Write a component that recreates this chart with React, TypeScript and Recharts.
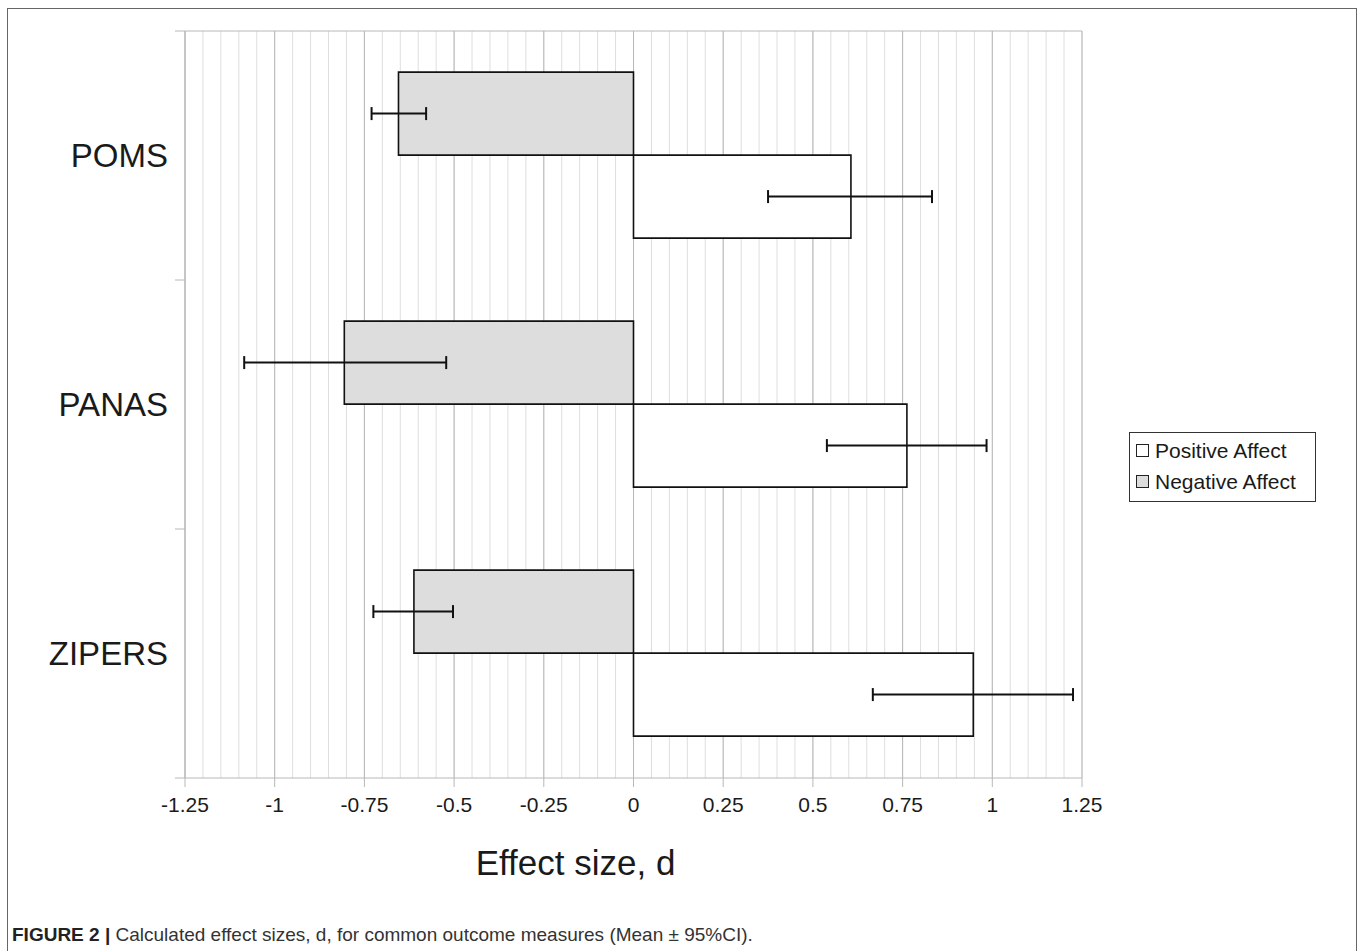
import {
  BarChart,
  Bar,
  XAxis,
  YAxis,
  CartesianGrid,
  ErrorBar,
  Legend,
} from "recharts"

// effect sizes (Cohen's d)
const measures = ["POMS", "PANAS", "ZIPERS"]
const negativeAffect = [-0.655, -0.806, -0.612]
const negativeLow = [-0.73, -1.085, -0.725]
const negativeHigh = [-0.578, -0.522, -0.503]
const positiveAffect = [0.606, 0.762, 0.947]
const positiveLow = [0.375, 0.539, 0.667]
const positiveHigh = [0.832, 0.984, 1.225]

const xTicks = [-1.25, -1, -0.75, -0.5, -0.25, 0, 0.25, 0.5, 0.75, 1, 1.25]
// light grid every 0.05
const minorTicks = Array.from({ length: 51 }, (_, i) => -1.25 + i * 0.05)
// tick marks between the category bands
const boundTicks = [0, 1, 2, 3]

const legendItems = [
  { label: "Positive Affect", fill: "#ffffff" },
  { label: "Negative Affect", fill: "#dddddd" },
]

const data = measures.map((name, i) => ({
  name,
  neg: negativeAffect[i],
  negErr: [negativeAffect[i] - negativeLow[i], negativeHigh[i] - negativeAffect[i]],
  pos: positiveAffect[i],
  posErr: [positiveAffect[i] - positiveLow[i], positiveHigh[i] - positiveAffect[i]],
}))

const FONT = '"Liberation Sans", Arial, sans-serif'
const GRID = "#b8b8b8"

// minor grid positions through the x axis scale
const minorGrid = ({ xAxis }: any) => {
  const scale = xAxis?.scale
  if (!scale) return []
  const fn = typeof scale === "function" ? scale : scale.map ?? scale.apply
  return minorTicks.map((v) => (typeof scale === "function" ? scale(v) : fn.call(scale, v)))
}

function LegendBox() {
  return (
    <div
      style={{
        width: 187,
        height: 70,
        boxSizing: "border-box",
        border: "1.5px solid #333",
        background: "#fff",
        paddingTop: 2,
        fontFamily: FONT,
        fontSize: 21,
        color: "#1a1a1a",
      }}
    >
      {legendItems.map((it) => (
        <div
          key={it.label}
          style={{ height: 31, display: "flex", alignItems: "center", paddingLeft: 6 }}
        >
          <span
            style={{
              display: "inline-block",
              width: 13,
              height: 13,
              boxSizing: "border-box",
              border: "1.5px solid #222",
              background: it.fill,
              marginRight: 6,
            }}
          />
          <span>{it.label}</span>
        </div>
      ))}
    </div>
  )
}

export default function App() {
  return (
    <div
      style={{
        position: "fixed",
        left: 7,
        top: 8,
        width: 1350,
        height: 950,
        boxSizing: "border-box",
        border: "1px solid #666",
        background: "#fff",
        fontFamily: FONT,
      }}
    >
      <div style={{ position: "absolute", left: 0, top: 0 }}>
        <BarChart
          width={1340}
          height={900}
          data={data}
          layout="vertical"
          margin={{ top: 21, right: 266, bottom: 34, left: 0 }}
          barCategoryGap="16.5%"
          barGap={0}
        >
          <CartesianGrid
            yAxisId="cat"
            horizontal={false}
            verticalCoordinatesGenerator={minorGrid}
            stroke="#dedede"
          />
          <CartesianGrid yAxisId="cat" horizontal={false} stroke={GRID} />
          <XAxis
            type="number"
            domain={[-1.25, 1.25]}
            ticks={xTicks}
            interval={0}
            height={97}
            tickSize={9}
            tickMargin={10}
            stroke={GRID}
            tick={{ fill: "#1a1a1a", fontSize: 21, fontFamily: FONT }}
            label={{
              value: "Effect size, d",
              position: "insideBottom",
              offset: 0,
              dx: -58,
              fill: "#1a1a1a",
              fontSize: 35,
              fontFamily: FONT,
            }}
          />
          <XAxis
            xAxisId="top"
            orientation="top"
            type="number"
            domain={[-1.25, 1.25]}
            height={1}
            tick={false}
            tickLine={false}
            stroke={GRID}
          />
          <YAxis
            yAxisId="bounds"
            type="number"
            dataKey={() => 1.5}
            domain={[0, 3]}
            allowDataOverflow
            ticks={boundTicks}
            interval={0}
            width={1}
            tickFormatter={() => ""}
            tickSize={10}
            stroke={GRID}
          />
          <YAxis
            yAxisId="cat"
            type="category"
            dataKey="name"
            width={176}
            axisLine={false}
            tickLine={false}
            tickSize={0}
            tickMargin={16}
            tick={{ fill: "#1a1a1a", fontSize: 33, fontFamily: FONT }}
          />
          <Legend
            layout="horizontal"
            verticalAlign="middle"
            align="center"
            content={() => <LegendBox />}
            wrapperStyle={{ left: 1121, top: 423, width: 187, height: 70 }}
          />
          <Bar
            yAxisId="cat"
            dataKey="neg"
            name="Negative Affect"
            fill="#dddddd"
            stroke="#111"
            strokeWidth={1.6}
            isAnimationActive={false}
          >
            <ErrorBar dataKey="negErr" direction="x" width={6.5} stroke="#111" strokeWidth={2} />
          </Bar>
          <Bar
            yAxisId="cat"
            dataKey="pos"
            name="Positive Affect"
            fill="#ffffff"
            stroke="#111"
            strokeWidth={1.6}
            isAnimationActive={false}
          >
            <ErrorBar dataKey="posErr" direction="x" width={6.5} stroke="#111" strokeWidth={2} />
          </Bar>
        </BarChart>
      </div>
      <div
        style={{
          position: "absolute",
          left: 4,
          top: 916,
          fontSize: 19,
          lineHeight: "20px",
          color: "#333",
          fontFamily: '"Liberation Sans Narrow", "Liberation Sans", Arial, sans-serif',
          whiteSpace: "nowrap",
        }}
      >
        <b style={{ color: "#222" }}>FIGURE 2 |</b> Calculated effect sizes, d, for common outcome measures (Mean ± 95%CI).
      </div>
    </div>
  )
}
